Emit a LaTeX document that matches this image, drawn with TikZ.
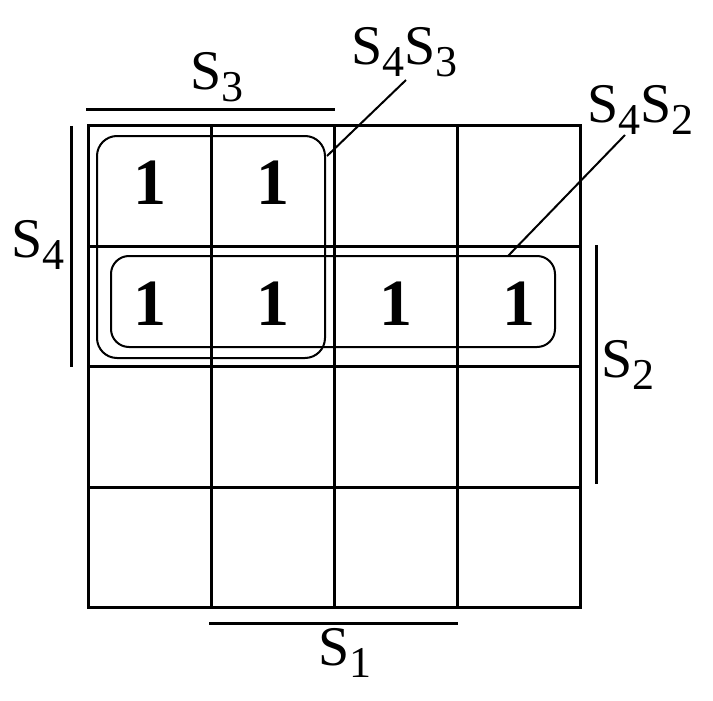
\documentclass[tikz,border=0pt]{standalone}
\usepackage{fontspec}
\setmainfont{Liberation Serif}
\usepackage{tikz}
\usetikzlibrary{positioning}

\newcommand{\Slbl}[1]{S\raisebox{-12pt}{\fontsize{44}{44}\selectfont #1}}

\begin{document}
\begin{tikzpicture}[x=1pt, y=-1pt,
    one/.style={font=\bfseries\fontsize{66}{66}\selectfont, inner sep=0},
    lbl/.style={anchor=base west, inner sep=0, font=\fontsize{56}{56}\selectfont},
    grp/.style={draw, line width=2pt, rounded corners=20pt, inner sep=0, outer sep=0},
    gridline/.style={line width=3pt},
    bar/.style={line width=3pt},
    lead/.style={line width=2pt}
]
    \useasboundingbox (0,0) rectangle (713,701);

    % Grid
    \draw[gridline] (88,126) rectangle (580,607);
    \foreach \x in {211,334,457}
        \draw[gridline] (\x,126) -- (\x,607);
    \foreach \y in {246,366,487}
        \draw[gridline] (88,\y) -- (580,\y);

    % Ones
    \node[one] (c11) at (149.5,183) {1};
    \node[one] (c12) at (272.5,183) {1};
    \node[one] (c21) at (149.5,304) {1};
    \node[one] (c22) at (272.5,304) {1};
    \node[one] (c23) at (395.5,304) {1};
    \node[one] (c24) at (518.5,304) {1};

    % Groups
    \node[grp, minimum width=228pt, minimum height=222pt] (g43) at (211,247) {};
    \node[grp, minimum width=444pt, minimum height=91pt, rounded corners=18pt] (g42) at (333,301.5) {};

    % Variable bars
    \draw[bar] (86,110) -- (335,110);
    \draw[bar] (71,126) -- (71,367);
    \draw[bar] (209,623) -- (458,623);
    \draw[bar] (596,245) -- (596,484);

    % Variable labels
    \node[lbl] (s3) at (190,90) {\Slbl{3}};
    \node[lbl] (s4) at (11,257) {\Slbl{4}};
    \node[lbl] (s1) at (318,665) {\Slbl{1}};
    \node[lbl] (s2) at (601,377) {\Slbl{2}};

    % Group labels
    \node[lbl] (l43) at (351,65) {\Slbl{4}\Slbl{3}};
    \node[lbl] (l42) at (587,123) {\Slbl{4}\Slbl{2}};

    % Leaders
    \coordinate (t43) at (327,156);
    \coordinate (e43) at (406,80);
    \coordinate (t42) at (508,256);
    \coordinate (e42) at (625,135);
    \draw[lead] (t43) -- (e43);
    \draw[lead] (t42) -- (e42);
\end{tikzpicture}
\end{document}
